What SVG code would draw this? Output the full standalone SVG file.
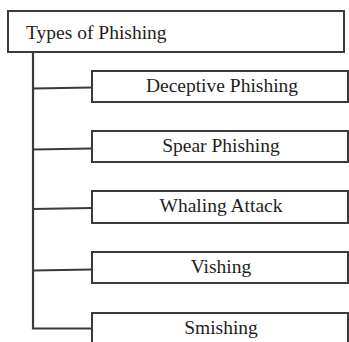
<svg xmlns="http://www.w3.org/2000/svg" width="349" height="342" viewBox="0 0 349 342">
<style>
.box{fill:#fff;stroke:#3a3a3a;stroke-width:2}
.lbl{font-family:"Liberation Serif","Times New Roman",serif;font-size:19.5px;fill:#1e1e1e}
.c{text-anchor:middle}
.conn{stroke:#3a3a3a;stroke-width:2.2;fill:none}
</style>
<g id="connectors">
<path class="conn" d="M33 52 V328.5 H92"/>
<path class="conn" d="M33 88.5 L92 87.5"/>
<path class="conn" d="M33 149.5 L92 148.5"/>
<path class="conn" d="M33 209 L92 208"/>
<path class="conn" d="M33 270.5 L92 269.5"/>
</g>
<g id="root">
<rect class="box" x="8" y="11" width="336" height="41"/>
<text class="lbl" x="26" y="39">Types of Phishing</text>
</g>
<g id="deceptive">
<rect class="box" x="92" y="71" width="256" height="31"/>
<text class="lbl c" x="222" y="92">Deceptive Phishing</text>
</g>
<g id="spear">
<rect class="box" x="92" y="131" width="256" height="31"/>
<text class="lbl c" x="221" y="152">Spear Phishing</text>
</g>
<g id="whaling">
<rect class="box" x="92" y="191" width="256" height="32"/>
<text class="lbl c" x="221" y="212">Whaling Attack</text>
</g>
<g id="vishing">
<rect class="box" x="92" y="252" width="256" height="31"/>
<text class="lbl c" x="221" y="273">Vishing</text>
</g>
<g id="smishing">
<rect class="box" x="92" y="313" width="256" height="40"/>
<text class="lbl c" x="221" y="334">Smishing</text>
</g>
</svg>
